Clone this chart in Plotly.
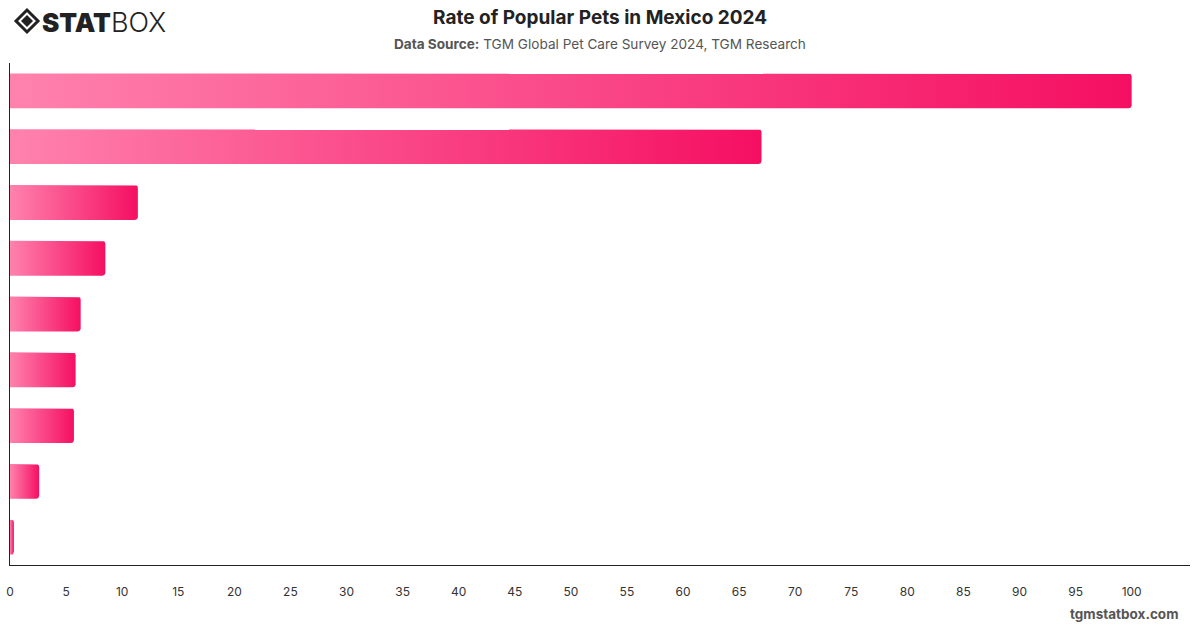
import numpy as np
import plotly.graph_objects as go

# ---- data ----
categories = ["Dog", "Cat", "Bird", "Fish", "Rabbit", "Hamster", "Turtle", "Reptile", "Other"]
values = [100, 67.0, 11.4, 8.5, 6.3, 5.85, 5.7, 2.6, 0.35]
tick_values = list(range(0, 101, 5))
tick_labels = [str(v) for v in tick_values]

title_text = "Rate of Popular Pets in Mexico 2024"
subtitle_text = "<b>Data Source:</b> TGM Global Pet Care Survey 2024, TGM Research"
footer_text = "tgmstatbox.com"

# ---- style ----
W, H = 1200, 628
M_L, M_R, M_T, M_B = 10, 10, 63, 63
X_MAX = 105.2
BAR_FRAC = 0.625
CORNER_PX = 3
GRAD = [[0, "#FF82AD"], [1, "#F50F62"]]
FONT = "Inter, 'Open Sans', sans-serif"

plot_w = W - M_L - M_R
plot_h = H - M_T - M_B
px_per_x = plot_w / X_MAX
px_per_y = plot_h / len(categories)

fig = go.Figure()

half = BAR_FRAC / 2
for i, (cat, v) in enumerate(zip(categories, values)):
    rx = min(CORNER_PX / px_per_x, v / 2)
    ry = CORNER_PX / px_per_y
    t = np.linspace(0, np.pi / 2, 6)
    top, bot = i - half, i + half
    xs = [0, v - rx]
    ys = [top, top]
    xs += list(v - rx + rx * np.sin(t))
    ys += list(top + ry - ry * np.cos(t))
    xs += list(v - rx + rx * np.cos(t))
    ys += list(bot - ry + ry * np.sin(t))
    xs += [0, 0]
    ys += [bot, top]
    fig.add_trace(go.Scatter(
        x=xs, y=ys, mode="lines", fill="toself",
        line=dict(width=0, color="rgba(0,0,0,0)"),
        fillgradient=dict(type="horizontal", colorscale=GRAD),
        name=cat, hoverinfo="skip", showlegend=False,
    ))

fig.update_xaxes(
    range=[0, X_MAX], tickvals=tick_values, ticktext=tick_labels,
    showgrid=False, zeroline=False, showline=True, linecolor="#222", linewidth=1,
    tickfont=dict(family=FONT, size=12, color="#333"), ticks="", ticklabelstandoff=16,
    fixedrange=True, automargin=False,
)
fig.update_yaxes(
    range=[len(categories) - 0.5, -0.5], showticklabels=False, showgrid=False,
    zeroline=False, showline=True, linecolor="#222", linewidth=1, ticks="",
    fixedrange=True, automargin=False,
)


def px2paper(x, y):
    return (x - M_L) / plot_w, (H - M_B - y) / plot_h


annotations = []


def add_text(text, x, y, size, color, xanchor="center", weight="normal"):
    px_, py_ = px2paper(x, y)
    annotations.append(dict(
        text=text, x=px_, y=py_, xref="paper", yref="paper",
        xanchor=xanchor, yanchor="middle", showarrow=False,
        font=dict(family=FONT, size=size, color=color, weight=weight),
    ))


add_text("<b>" + title_text + "</b>", 600, 17, 19, "#222")
add_text(subtitle_text, 600, 44, 13.6, "#555")
add_text("<b>" + footer_text + "</b>", 1180, 614, 13.5, "#555", xanchor="right")
add_text("STAT", 40, 22, 26, "#222", xanchor="left", weight=900)
add_text("BOX", 109, 22, 27, "#222", xanchor="left", weight=300)


def diamond_path(cx, cy, r):
    pts = [px2paper(cx - r, cy), px2paper(cx, cy - r), px2paper(cx + r, cy), px2paper(cx, cy + r)]
    return "M " + " L ".join(f"{a:.5f},{b:.5f}" for a, b in pts) + " Z"


shapes = [
    dict(type="path", xref="paper", yref="paper", path=diamond_path(27, 21, 11),
         line=dict(color="#222", width=3), fillcolor="rgba(0,0,0,0)"),
    dict(type="path", xref="paper", yref="paper", path=diamond_path(27, 21, 6),
         line=dict(color="#222", width=0), fillcolor="#222"),
]

fig.update_layout(
    width=W, height=H, margin=dict(l=M_L, r=M_R, t=M_T, b=M_B),
    paper_bgcolor="white", plot_bgcolor="white",
    annotations=annotations, shapes=shapes, showlegend=False,
)

fig.write_html("out.html", config={"displayModeBar": False})
